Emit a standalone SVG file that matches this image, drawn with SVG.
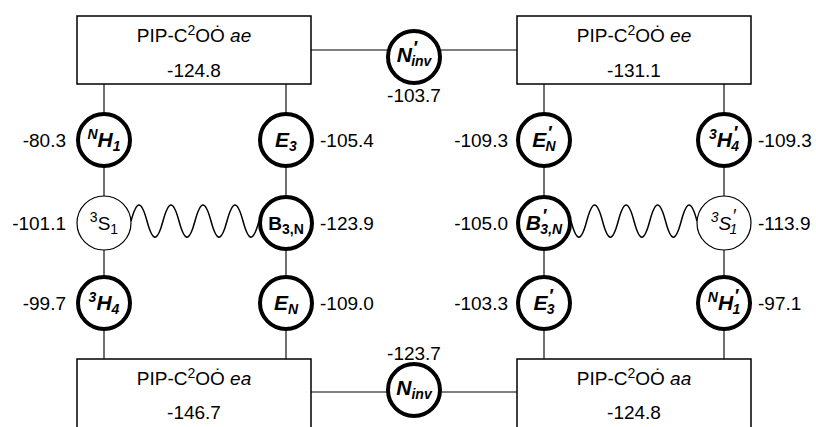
<svg xmlns="http://www.w3.org/2000/svg" width="816" height="427" viewBox="0 0 816 427">
<style>
text{font-family:"Liberation Sans",Arial,sans-serif;font-size:19px;fill:#000}
.box{fill:#fff;stroke:#000;stroke-width:1.5}
.thick{fill:#fff;stroke:#000;stroke-width:4}
.thin{fill:#fff;stroke:#000;stroke-width:1.2}
.v{stroke:#404040;stroke-width:1.5;fill:none}
.h{stroke:#000;stroke-width:1.2;fill:none}
.wave{stroke:#000;stroke-width:1.5;fill:none}
.nl{font-weight:bold;font-style:italic;font-size:21px}
.sm{font-size:14px}
.pr{font-size:18px}
.mid{text-anchor:middle}
.end{text-anchor:end}
</style>
<rect width="816" height="427" fill="#fff"/>
<g id="connectors">
<line class="v" x1="104" y1="84" x2="104" y2="359"/>
<line class="v" x1="286" y1="84" x2="286" y2="359"/>
<line class="v" x1="544" y1="84" x2="544" y2="359"/>
<line class="v" x1="724" y1="84" x2="724" y2="359"/>
<line class="h" x1="311" y1="50" x2="517" y2="50"/>
<line class="h" x1="311" y1="392" x2="517" y2="392"/>
<path class="wave" d="M131,221 c5.8,-21.5 10.2,-21.5 16,0 c5.8,21.5 10.2,21.5 16,0 c5.8,-21.5 10.2,-21.5 16,0 c5.8,21.5 10.2,21.5 16,0 c5.8,-21.5 10.2,-21.5 16,0 c5.8,21.5 10.2,21.5 16,0 c5.8,-21.5 10.2,-21.5 16,0 c5.8,21.5 10.2,21.5 16,0"/>
<path class="wave" d="M571,221 c5.7,21.5 10.05,21.5 15.75,0 c5.7,-21.5 10.05,-21.5 15.75,0 c5.7,21.5 10.05,21.5 15.75,0 c5.7,-21.5 10.05,-21.5 15.75,0 c5.7,21.5 10.05,21.5 15.75,0 c5.7,-21.5 10.05,-21.5 15.75,0 c5.7,21.5 10.05,21.5 15.75,0 c5.7,-21.5 10.05,-21.5 15.75,0"/>
</g>
<g id="box-ae">
<rect class="box" x="77" y="16" width="234" height="68"/>
<text class="mid" x="194" y="42">PIP-C<tspan class="sm" dy="-7">2</tspan><tspan dy="7">OȮ </tspan><tspan font-style="italic">ae</tspan></text>
<text class="mid" x="194" y="77">-124.8</text>
</g>
<g id="box-ee">
<rect class="box" x="517" y="16" width="234" height="68"/>
<text class="mid" x="634" y="42">PIP-C<tspan class="sm" dy="-7">2</tspan><tspan dy="7">OȮ </tspan><tspan font-style="italic">ee</tspan></text>
<text class="mid" x="634" y="77">-131.1</text>
</g>
<g id="box-ea">
<rect class="box" x="77" y="359" width="234" height="90"/>
<text class="mid" x="194" y="385">PIP-C<tspan class="sm" dy="-7">2</tspan><tspan dy="7">OȮ </tspan><tspan font-style="italic">ea</tspan></text>
<text class="mid" x="194" y="419">-146.7</text>
</g>
<g id="box-aa">
<rect class="box" x="517" y="359" width="234" height="90"/>
<text class="mid" x="634" y="385">PIP-C<tspan class="sm" dy="-7">2</tspan><tspan dy="7">OȮ </tspan><tspan font-style="italic">aa</tspan></text>
<text class="mid" x="634" y="419">-124.8</text>
</g>
<g id="node-Ninv-prime">
<circle class="thick" cx="414" cy="57" r="26"/>
<text class="nl mid" x="414" y="62">N<tspan class="pr" dx="1" dy="-8">′</tspan><tspan class="sm" dx="-6" dy="12">inv</tspan></text>
<text class="mid" x="414" y="102">-103.7</text>
</g>
<g id="node-Ninv">
<circle class="thick" cx="414" cy="390" r="26"/>
<text class="nl mid" x="414" y="395">N<tspan class="sm" dy="4">inv</tspan></text>
<text class="mid" x="414" y="360">-123.7</text>
</g>
<g id="node-NH1">
<circle class="thick" cx="104" cy="140" r="26"/>
<text class="nl mid" x="104" y="147"><tspan class="sm" dy="-8">N</tspan><tspan dy="8">H</tspan><tspan class="sm" dy="4">1</tspan></text>
<text class="end" x="66" y="147">-80.3</text>
</g>
<g id="node-E3">
<circle class="thick" cx="286" cy="140" r="26"/>
<text class="nl mid" x="286" y="147">E<tspan class="sm" dy="4">3</tspan></text>
<text x="320" y="147">-105.4</text>
</g>
<g id="node-EN-prime">
<circle class="thick" cx="544" cy="140" r="26"/>
<text class="nl mid" x="544" y="147">E<tspan class="pr" dx="1" dy="-8">′</tspan><tspan class="sm" dx="-6" dy="12">N</tspan></text>
<text class="end" x="508" y="147">-109.3</text>
</g>
<g id="node-3H4-prime">
<circle class="thick" cx="724" cy="140" r="26"/>
<text class="nl mid" x="724" y="147"><tspan class="sm" dy="-8">3</tspan><tspan dy="8">H</tspan><tspan class="pr" dx="1" dy="-8">′</tspan><tspan class="sm" dx="-6" dy="12">4</tspan></text>
<text x="758" y="147">-109.3</text>
</g>
<g id="node-3S1">
<circle class="thin" cx="104" cy="223" r="27"/>
<text class="mid" x="104" y="230" font-size="20"><tspan class="sm" dy="-8">3</tspan><tspan dy="8">S</tspan><tspan class="sm" dy="4">1</tspan></text>
<text class="end" x="66" y="230">-101.1</text>
</g>
<g id="node-B3N">
<circle class="thick" cx="286" cy="223" r="26"/>
<text class="mid" x="286" y="230" font-weight="bold" font-size="20">B<tspan class="sm" dy="4">3,N</tspan></text>
<text x="320" y="230">-123.9</text>
</g>
<g id="node-B3N-prime">
<circle class="thick" cx="544" cy="223" r="26"/>
<text class="nl mid" x="544" y="230" font-size="20">B<tspan class="pr" dx="1" dy="-8">′</tspan><tspan class="sm" dx="-6" dy="12">3,N</tspan></text>
<text class="end" x="508" y="230">-105.0</text>
</g>
<g id="node-3S1-prime">
<circle class="thin" cx="724" cy="223" r="27"/>
<text class="mid" x="724" y="230" font-style="italic" font-size="20"><tspan class="sm" dy="-8">3</tspan><tspan dy="8">S</tspan><tspan class="pr" dx="1" dy="-8">′</tspan><tspan class="sm" dx="-6" dy="12">1</tspan></text>
<text x="758" y="230">-113.9</text>
</g>
<g id="node-3H4">
<circle class="thick" cx="104" cy="303" r="26"/>
<text class="nl mid" x="104" y="310"><tspan class="sm" dy="-8">3</tspan><tspan dy="8">H</tspan><tspan class="sm" dy="4">4</tspan></text>
<text class="end" x="66" y="310">-99.7</text>
</g>
<g id="node-EN">
<circle class="thick" cx="286" cy="303" r="26"/>
<text class="nl mid" x="286" y="310">E<tspan class="sm" dy="4">N</tspan></text>
<text x="320" y="310">-109.0</text>
</g>
<g id="node-E3-prime">
<circle class="thick" cx="544" cy="303" r="26"/>
<text class="nl mid" x="544" y="310">E<tspan class="pr" dx="1" dy="-8">′</tspan><tspan class="sm" dx="-6" dy="12">3</tspan></text>
<text class="end" x="508" y="310">-103.3</text>
</g>
<g id="node-NH1-prime">
<circle class="thick" cx="724" cy="303" r="26"/>
<text class="nl mid" x="724" y="310"><tspan class="sm" dy="-8">N</tspan><tspan dy="8">H</tspan><tspan class="pr" dx="1" dy="-8">′</tspan><tspan class="sm" dx="-6" dy="12">1</tspan></text>
<text x="758" y="310">-97.1</text>
</g>
</svg>
